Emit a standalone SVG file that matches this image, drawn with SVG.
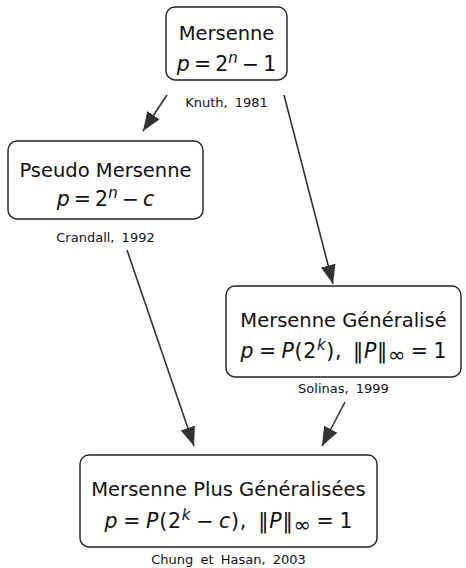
<svg xmlns="http://www.w3.org/2000/svg" width="466" height="568" viewBox="0 0 466 568">
<defs>
<marker id="ah" markerUnits="userSpaceOnUse" markerWidth="22" markerHeight="18" refX="19" refY="7.5" orient="auto">
<path d="M0,0 L19,7.5 L0,15 z" fill="#333"/>
</marker>
<style>
.box{fill:#fff;stroke:#222;stroke-width:1.4}
.t{font-family:"DejaVu Sans",sans-serif;font-size:19.5px;fill:#111;text-anchor:middle}
.f{font-family:"DejaVu Sans",sans-serif;font-size:20.5px;fill:#111;text-anchor:middle}
.i{font-style:italic}
.sup{font-style:italic;font-size:15px}
.inf{font-size:21px}
.lbl{font-family:"DejaVu Sans",sans-serif;font-size:13px;fill:#111;text-anchor:middle;word-spacing:3px}
.edge{stroke:#333;stroke-width:1.6;fill:none;marker-end:url(#ah)}
</style>
</defs>
<g id="connectors">
<line class="edge" x1="167" y1="95" x2="143" y2="131"/>
<line class="edge" x1="284" y1="95" x2="333" y2="284"/>
<line class="edge" x1="127" y1="250" x2="194" y2="446"/>
<line class="edge" x1="345" y1="402" x2="322" y2="446"/>
</g>
<g id="mersenne">
<rect class="box" x="166" y="7" width="121" height="73" rx="9"/>
<text class="t" x="226.5" y="40">Mersenne</text>
<text class="f" x="226.5" y="71"><tspan class="i">p</tspan>&#8201;=&#8201;2<tspan class="sup" dy="-8">n</tspan><tspan dy="8">&#8201;−&#8201;1</tspan></text>
<text class="lbl" x="226.5" y="107">Knuth, 1981</text>
</g>
<g id="pseudo">
<rect class="box" x="8" y="141" width="195" height="78" rx="9"/>
<text class="t" x="105.5" y="177">Pseudo Mersenne</text>
<text class="f" x="105.5" y="206"><tspan class="i">p</tspan>&#8201;=&#8201;2<tspan class="sup" dy="-8">n</tspan><tspan dy="8">&#8201;−&#8201;</tspan><tspan class="i">c</tspan></text>
<text class="lbl" x="105.5" y="242">Crandall, 1992</text>
</g>
<g id="generalise">
<rect class="box" x="226" y="286" width="235" height="91" rx="9"/>
<text class="t" x="343.5" y="327">Mersenne Généralisé</text>
<text class="f" x="343.5" y="358" textLength="206" lengthAdjust="spacing"><tspan class="i">p</tspan>&#8201;=&#8201;<tspan class="i">P</tspan>(2<tspan class="sup" dy="-8">k</tspan><tspan dy="8">),&#8194;‖</tspan><tspan class="i">P</tspan>‖<tspan class="inf" dy="4">∞</tspan><tspan dy="-4">&#8201;=&#8201;1</tspan></text>
<text class="lbl" x="343.5" y="393">Solinas, 1999</text>
</g>
<g id="plus">
<rect class="box" x="80" y="455" width="297" height="92" rx="9"/>
<text class="t" x="228.5" y="496">Mersenne Plus Généralisées</text>
<text class="f" x="228.5" y="528" textLength="248" lengthAdjust="spacing"><tspan class="i">p</tspan>&#8201;=&#8201;<tspan class="i">P</tspan>(2<tspan class="sup" dy="-8">k</tspan><tspan dy="8">&#8201;−&#8201;</tspan><tspan class="i">c</tspan>),&#8194;‖<tspan class="i">P</tspan>‖<tspan class="inf" dy="4">∞</tspan><tspan dy="-4">&#8201;=&#8201;1</tspan></text>
<text class="lbl" x="228.5" y="564">Chung et Hasan, 2003</text>
</g>
</svg>
